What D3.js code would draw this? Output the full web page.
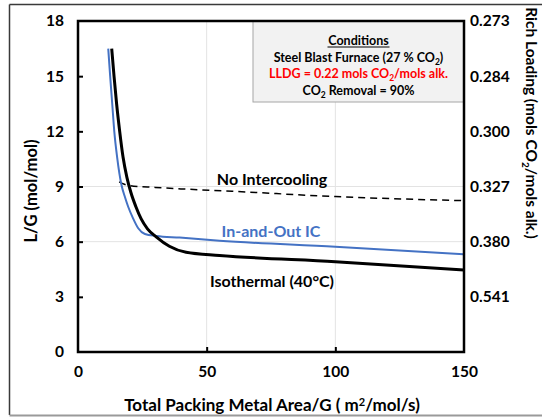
<!DOCTYPE html>
<html>
<head>
<meta charset="utf-8">
<script src="https://cdn.jsdelivr.net/npm/d3@7"></script>
<style>
  html, body { margin: 0; padding: 0; background: #fff; }
  svg { display: block; }
  text { font-family: Lato, "Open Sans", sans-serif; font-weight: bold; }
</style>
</head>
<body>
<svg id="chart" width="542" height="417"></svg>
<script>
// Isothermal (40°C) absorber: L/G vs. total packing area / G
const isoX = [13.1, 14.0, 15.0, 16.2, 17.5, 19.0, 20.5, 22.5, 24.5, 27.0, 30.5, 35.5, 42.0, 55.0, 100.0, 150.0];
const isoY = [16.5, 15.0, 13.5, 12.0, 10.6, 9.5, 8.7, 7.9, 7.25, 6.7, 6.25, 5.75, 5.42, 5.25, 4.91, 4.46];

// In-and-out intercooling
const icX = [11.75, 12.5, 13.3, 14.1, 15.2, 16.9, 18.3, 19.5, 21.4, 23.4, 26.0, 30.5, 39.5, 55.0, 100.0, 150.0];
const icY = [16.5, 15.0, 13.5, 12.0, 10.6, 9.08, 8.4, 7.9, 7.27, 6.73, 6.42, 6.31, 6.22, 6.05, 5.73, 5.31];

// No intercooling
const noX = [16.0, 18.0, 20.0, 30.0, 40.0, 60.0, 100.0, 150.0];
const noY = [9.25, 9.12, 9.05, 8.95, 8.87, 8.74, 8.45, 8.23];

// Axis ticks
const xTicks = [0, 50, 100, 150];
const yTicks = [0, 3, 6, 9, 12, 15, 18];
const richTicks = [3, 6, 9, 12, 15, 18];
const richLabels = ["0.541", "0.380", "0.327", "0.300", "0.284", "0.273"];
const gridX = [50, 100];
const gridY = [6, 9];

const svg = d3.select("#chart");
const pL = 78, pR = 464, pT = 21, pB = 352;

const x = d3.scaleLinear().domain([0, 150]).range([pL, pR]);
const y = d3.scaleLinear().domain([0, 18]).range([pB, pT]);

// Outer frame of the figure
svg.append("line").attr("x1", 9.5).attr("y1", 4.5).attr("x2", 9.5).attr("y2", 415)
  .attr("stroke", "#3a3a3a").attr("stroke-width", 1.5);
svg.append("line").attr("x1", 9.5).attr("y1", 4.5).attr("x2", 542).attr("y2", 4.5)
  .attr("stroke", "#3a3a3a").attr("stroke-width", 1.5);
svg.append("line").attr("x1", 9.5).attr("y1", 415.5).attr("x2", 542).attr("y2", 415.5)
  .attr("stroke", "#9a9a9a").attr("stroke-width", 2);

// Gridlines
svg.append("g").selectAll("line").data(gridX).join("line")
  .attr("x1", d => x(d)).attr("x2", d => x(d)).attr("y1", pT).attr("y2", pB)
  .attr("stroke", "#e3e3e3").attr("stroke-width", 1);
svg.append("g").selectAll("line").data(gridY).join("line")
  .attr("x1", pL).attr("x2", pR).attr("y1", d => y(d)).attr("y2", d => y(d))
  .attr("stroke", "#e3e3e3").attr("stroke-width", 1);

// Conditions box
const box = svg.append("g");
box.append("rect").attr("x", 253).attr("y", pT).attr("width", pR - 253).attr("height", 81)
  .attr("fill", "#f2f2f2").attr("stroke", "#a6a6a6").attr("stroke-width", 1);
const bx = (253 + pR) / 2;
box.append("text").attr("x", bx).attr("y", 45).attr("text-anchor", "middle")
  .attr("font-size", 12.5).attr("fill", "#000").text("Conditions");
box.append("line").attr("x1", bx - 31).attr("x2", bx + 31).attr("y1", 47).attr("y2", 47)
  .attr("stroke", "#000").attr("stroke-width", 1);

// Text with a subscript "2" in the middle: before + sub + after
function subText(g, yy, color, before, after) {
  const t = g.append("text").attr("x", bx).attr("y", yy).attr("text-anchor", "middle")
    .attr("font-size", 12.5).attr("fill", color);
  t.append("tspan").text(before);
  t.append("tspan").attr("dy", 3).attr("font-size", 8.5).text("2");
  t.append("tspan").attr("dy", -3).text(after);
  return t;
}
subText(box, 62, "#000", "Steel Blast Furnace (27 % CO", ")");
subText(box, 78, "#ff0000", "LLDG = 0.22 mols CO", "/mols alk.");
subText(box, 95, "#000", "CO", " Removal = 90%");

// Series
const line = d3.line().x(d => x(d[0])).y(d => y(d[1])).curve(d3.curveMonotoneX);
svg.append("path").datum(d3.zip(noX, noY)).attr("d", line)
  .attr("fill", "none").attr("stroke", "#000").attr("stroke-width", 1.5)
  .attr("stroke-dasharray", "7,5");
svg.append("path").datum(d3.zip(icX, icY)).attr("d", line)
  .attr("fill", "none").attr("stroke", "#4472c4").attr("stroke-width", 2);
svg.append("path").datum(d3.zip(isoX, isoY)).attr("d", line)
  .attr("fill", "none").attr("stroke", "#000").attr("stroke-width", 3);

// Series labels
svg.append("text").attr("x", 272).attr("y", 185).attr("text-anchor", "middle")
  .attr("font-size", 16).attr("fill", "#000").text("No Intercooling");
svg.append("text").attr("x", 271).attr("y", 237).attr("text-anchor", "middle")
  .attr("font-size", 16).attr("fill", "#4472c4").text("In-and-Out IC");
svg.append("text").attr("x", 272).attr("y", 287).attr("text-anchor", "middle")
  .attr("font-size", 16).attr("fill", "#000").text("Isothermal (40°C)");

// Axes
const xAxis = d3.axisBottom(x).tickValues(xTicks).tickSizeInner(-5).tickSizeOuter(0).tickPadding(14);
const gx = svg.append("g").attr("transform", `translate(0,${pB})`).call(xAxis);
const yAxis = d3.axisLeft(y).tickValues(yTicks).tickSizeInner(-5).tickSizeOuter(0).tickPadding(14);
const gy = svg.append("g").attr("transform", `translate(${pL},0)`).call(yAxis);
const rAxis = d3.axisRight(y).tickValues(richTicks).tickSize(0).tickPadding(6)
  .tickFormat(d => richLabels[richTicks.indexOf(d)]);
const gr = svg.append("g").attr("transform", `translate(${pR},0)`).call(rAxis);

[gx, gy, gr].forEach(g => {
  g.select(".domain").remove();
  g.selectAll(".tick line").attr("stroke", "#000").attr("stroke-width", 2);
  g.selectAll(".tick text").attr("font-size", 15.5).attr("fill", "#000")
    .attr("font-family", "Lato, 'Open Sans', sans-serif").attr("font-weight", "bold");
});
gx.selectAll(".tick").filter(d => d === 0 || d === 150).select("line").remove();
gy.selectAll(".tick").filter(d => d === 0 || d === 18).select("line").remove();

// Plot frame
svg.append("rect").attr("x", pL).attr("y", pT).attr("width", pR - pL).attr("height", pB - pT)
  .attr("fill", "none").attr("stroke", "#000").attr("stroke-width", 2.5);

// Axis titles
const xt = svg.append("text").attr("x", 272).attr("y", 411).attr("text-anchor", "middle")
  .attr("font-size", 17).attr("fill", "#000");
xt.append("tspan").text("Total Packing Metal Area/G ( m");
xt.append("tspan").attr("dy", -5).attr("font-size", 11).text("2");
xt.append("tspan").attr("dy", 5).text("/mol/s)");

svg.append("text").attr("transform", "translate(37,191) rotate(-90)").attr("text-anchor", "middle")
  .attr("font-size", 16.5).attr("fill", "#000").text("L/G (mol/mol)");

const rt = svg.append("text").attr("transform", "translate(526,123) rotate(90)").attr("text-anchor", "middle")
  .attr("font-size", 15.5).attr("fill", "#000");
rt.append("tspan").text("Rich Loading (mols CO");
rt.append("tspan").attr("dy", 4).attr("font-size", 10).text("2");
rt.append("tspan").attr("dy", -4).text("/mols alk.)");
</script>
</body>
</html>
